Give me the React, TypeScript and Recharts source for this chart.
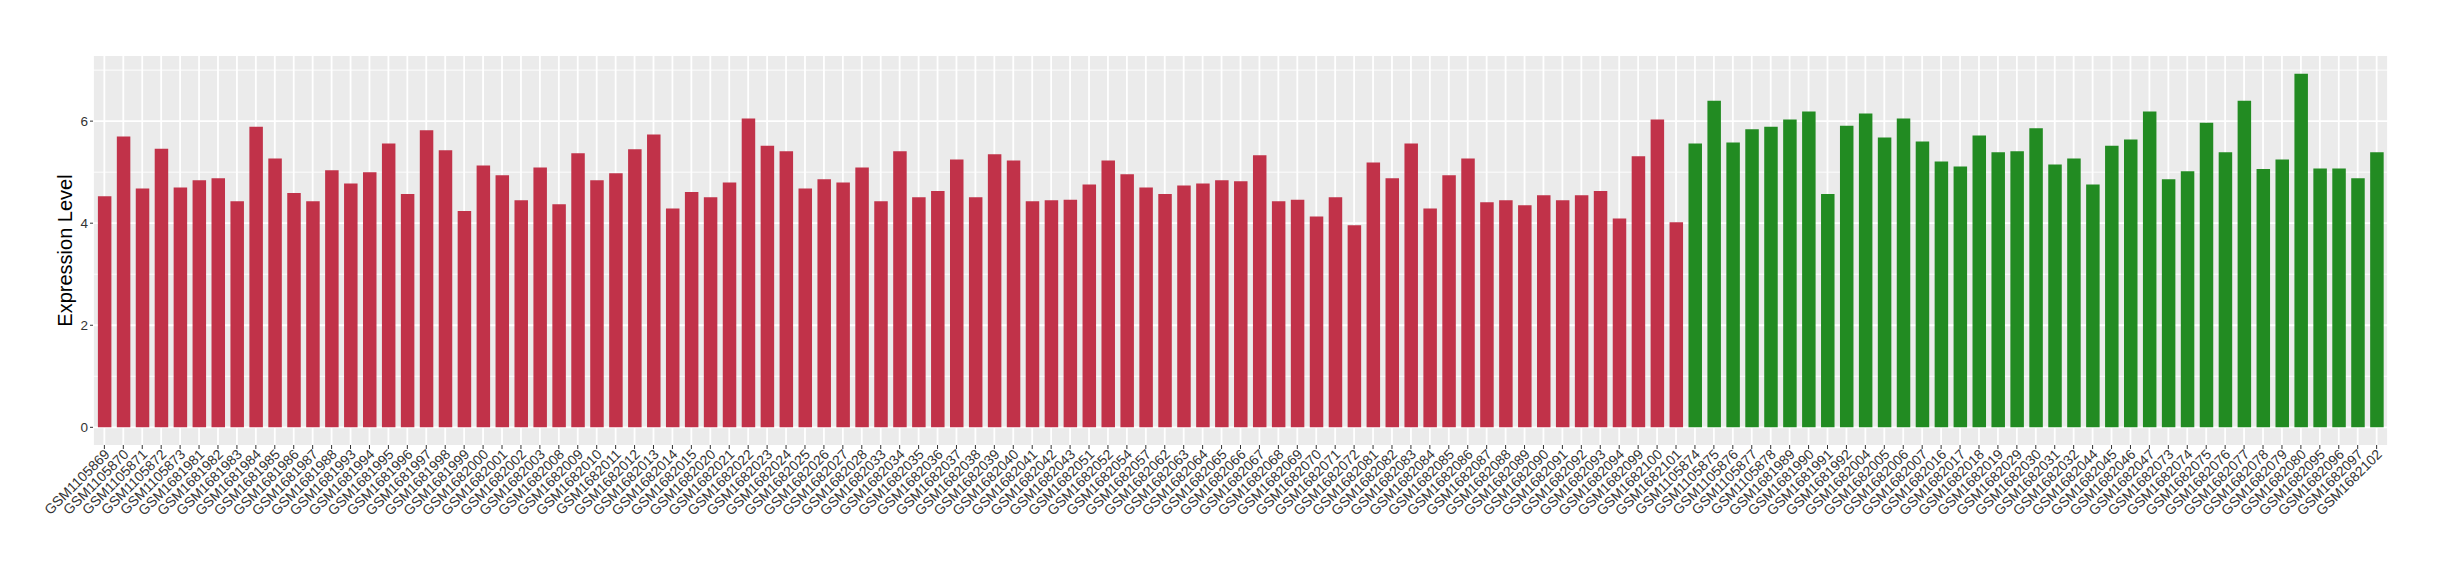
import React from 'react';
import { BarChart, Bar, XAxis, YAxis, CartesianGrid, Cell, Label } from 'recharts';

const redSamples = [
  'GSM1105869','GSM1105870','GSM1105871','GSM1105872','GSM1105873','GSM1681981','GSM1681982','GSM1681983',
  'GSM1681984','GSM1681985','GSM1681986','GSM1681987','GSM1681988','GSM1681993','GSM1681994','GSM1681995',
  'GSM1681996','GSM1681997','GSM1681998','GSM1681999','GSM1682000','GSM1682001','GSM1682002','GSM1682003',
  'GSM1682008','GSM1682009','GSM1682010','GSM1682011','GSM1682012','GSM1682013','GSM1682014','GSM1682015',
  'GSM1682020','GSM1682021','GSM1682022','GSM1682023','GSM1682024','GSM1682025','GSM1682026','GSM1682027',
  'GSM1682028','GSM1682033','GSM1682034','GSM1682035','GSM1682036','GSM1682037','GSM1682038','GSM1682039',
  'GSM1682040','GSM1682041','GSM1682042','GSM1682043','GSM1682051','GSM1682052','GSM1682054','GSM1682057',
  'GSM1682062','GSM1682063','GSM1682064','GSM1682065','GSM1682066','GSM1682067','GSM1682068','GSM1682069',
  'GSM1682070','GSM1682071','GSM1682072','GSM1682081','GSM1682082','GSM1682083','GSM1682084','GSM1682085',
  'GSM1682086','GSM1682087','GSM1682088','GSM1682089','GSM1682090','GSM1682091','GSM1682092','GSM1682093',
  'GSM1682094','GSM1682099','GSM1682100','GSM1682101',
];
const redValues = [
  4.53, 5.70, 4.68, 5.46, 4.70, 4.84, 4.88, 4.43,
  5.89, 5.27, 4.59, 4.43, 5.04, 4.78, 5.00, 5.56,
  4.57, 5.82, 5.43, 4.24, 5.13, 4.94, 4.45, 5.09,
  4.37, 5.37, 4.84, 4.98, 5.45, 5.74, 4.29, 4.61,
  4.51, 4.80, 6.05, 5.52, 5.41, 4.68, 4.86, 4.80,
  5.09, 4.43, 5.41, 4.51, 4.63, 5.25, 4.51, 5.35,
  5.23, 4.43, 4.45, 4.46, 4.76, 5.23, 4.96, 4.70,
  4.57, 4.74, 4.78, 4.84, 4.82, 5.33, 4.43, 4.46,
  4.13, 4.51, 3.96, 5.19, 4.88, 5.56, 4.29, 4.94,
  5.27, 4.41, 4.45, 4.35, 4.55, 4.45, 4.55, 4.63,
  4.09, 5.31, 6.03, 4.02,
];
const greenSamples = [
  'GSM1105874','GSM1105875','GSM1105876','GSM1105877','GSM1105878','GSM1681989','GSM1681990','GSM1681991',
  'GSM1681992','GSM1682004','GSM1682005','GSM1682006','GSM1682007','GSM1682016','GSM1682017','GSM1682018',
  'GSM1682019','GSM1682029','GSM1682030','GSM1682031','GSM1682032','GSM1682044','GSM1682045','GSM1682046',
  'GSM1682047','GSM1682073','GSM1682074','GSM1682075','GSM1682076','GSM1682077','GSM1682078','GSM1682079',
  'GSM1682080','GSM1682095','GSM1682096','GSM1682097','GSM1682102',
];
const greenValues = [
  5.56, 6.40, 5.58, 5.84, 5.89, 6.03, 6.19, 4.57,
  5.91, 6.15, 5.68, 6.05, 5.60, 5.21, 5.11, 5.72,
  5.39, 5.41, 5.86, 5.15, 5.27, 4.76, 5.52, 5.64,
  6.19, 4.86, 5.02, 5.97, 5.39, 6.40, 5.06, 5.25,
  6.93, 5.07, 5.07, 4.88, 5.39,
];
const yTicks = [0, 2, 4, 6];
const yMinor = [1, 3, 5, 7];
const yDomain = [-0.3465, 7.2765];

const RED = '#C13249';
const GREEN = '#228B22';

const data = [
  ...redSamples.map((s, i) => ({ sample: s, value: redValues[i], group: 'red' })),
  ...greenSamples.map((s, i) => ({ sample: s, value: greenValues[i], group: 'green' })),
];

const FONT = '"Liberation Sans", Arial, Helvetica, sans-serif';

const XTick = (props: any) => {
  const { x, y, payload } = props;
  return (
    <g transform={`translate(${x},${y})`}>
      <text
        x={0}
        y={0}
        dy="0.62em"
        transform="rotate(-45)"
        textAnchor="end"
        fontSize={14}
        fontFamily={FONT}
        fill="#333333"
      >
        {payload.value}
      </text>
    </g>
  );
};

export default function App() {
  return (
    <div style={{ position: 'absolute', left: 0, top: 0, width: 2440, height: 580, background: '#fff' }}>
      <BarChart
        width={2440}
        height={580}
        data={data}
        margin={{ top: 56, right: 52, bottom: 0, left: 0 }}
      >
        <CartesianGrid
          fill="#EBEBEB"
          stroke="#FFFFFF"
          strokeWidth={1.8}
          horizontalValues={yTicks}
          vertical={true}
        />
        <CartesianGrid
          stroke="#FFFFFF"
          strokeWidth={0.9}
          horizontalValues={yMinor}
          vertical={false}
        />
        <XAxis
          dataKey="sample"
          type="category"
          interval={0}
          height={135}
          padding={{ left: 1.9, right: 1.9 }}
          axisLine={false}
          tickLine={{ stroke: '#333333', strokeWidth: 1 }}
          tickSize={4}
          tickMargin={0}
          tick={<XTick />}
        />
        <YAxis
          type="number"
          width={93}
          domain={yDomain}
          allowDataOverflow={true}
          ticks={yTicks}
          axisLine={false}
          tickLine={{ stroke: '#333333', strokeWidth: 1 }}
          tickSize={3}
          tickMargin={2}
          tick={{ fontSize: 13.5, fontFamily: FONT, fill: '#333333' }}
        >
          <Label
            value="Expression Level"
            angle={-90}
            position="insideLeft"
            offset={65}
            style={{ textAnchor: 'middle', fontSize: 20, fontFamily: FONT, fill: '#000' }}
          />
        </YAxis>
        <Bar dataKey="value" barSize={13.5} isAnimationActive={false}>
          {data.map((d, i) => (
            <Cell key={i} fill={d.group === 'red' ? RED : GREEN} />
          ))}
        </Bar>
      </BarChart>
    </div>
  );
}
